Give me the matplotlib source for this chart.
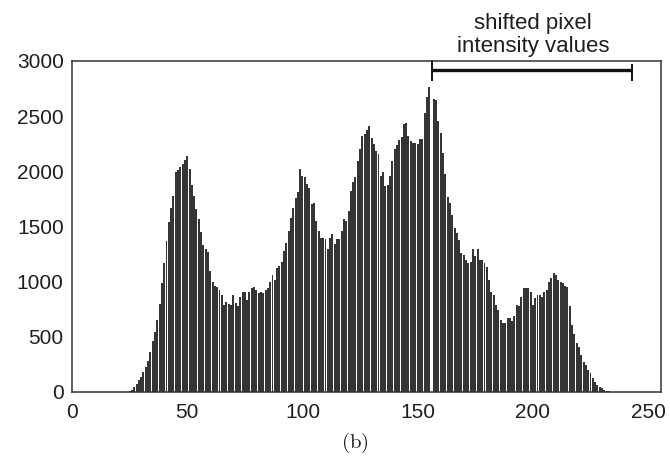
import numpy as np
import matplotlib
matplotlib.use("Agg")
import matplotlib.pyplot as plt

plt.rcParams["font.family"] = ["Liberation Sans", "DejaVu Sans"]
plt.rcParams["mathtext.fontset"] = "cm"

# Pixel-intensity histogram: counts for intensity levels 25..235 (all others are zero)
start_level = 25
counts_nonzero = [
    5, 15, 45, 75, 110, 140, 185, 230, 280, 360,            # 25-34
    460, 540, 650, 800, 990, 1170, 1370, 1540, 1670, 1780,  # 35-44
    1990, 2010, 2040, 2070, 2100, 2140, 2020, 1880, 1780, 1660,  # 45-54
    1570, 1450, 1330, 1300, 1270, 1100, 1000, 960, 950, 925,  # 55-64
    880, 790, 820, 800, 790, 880, 805, 775, 865, 910,        # 65-74
    905, 835, 910, 940, 955, 925, 895, 910, 895, 925,        # 75-84
    945, 1000, 1060, 1015, 1120, 1140, 1180, 1280, 1350, 1460,  # 85-94
    1580, 1670, 1760, 1810, 2020, 1960, 1945, 1885, 1850, 1700,  # 95-104
    1715, 1550, 1460, 1400, 1400, 1385, 1295, 1400, 1430, 1340,  # 105-114
    1385, 1385, 1460, 1565, 1550, 1640, 1820, 1900, 1945, 2095,  # 115-124
    2200, 2320, 2340, 2370, 2410, 2305, 2245, 2185, 2155, 1960,  # 125-134
    1990, 1870, 1880, 1960, 2095, 2200, 2240, 2280, 2310, 2430,  # 135-144
    2440, 2320, 2275, 2260, 2260, 2245, 2290, 2290, 2530, 2670,  # 145-154
    2760, 0, 2655, 2650, 2460, 2350, 2170, 1975, 1765, 1710,     # 155-164
    1605, 1485, 1440, 1380, 1260, 1240, 1200, 1170, 1180, 1300,  # 165-174
    1230, 1300, 1200, 1195, 1165, 1135, 1015, 910, 880, 790,     # 175-184
    745, 655, 625, 625, 670, 670, 640, 685, 790, 775,            # 185-194
    865, 940, 940, 940, 910, 790, 850, 880, 880, 865,            # 195-204
    910, 925, 1000, 1030, 1075, 1060, 1015, 1000, 985, 965,      # 205-214
    950, 775, 605, 530, 440, 410, 335, 275, 245, 200,            # 215-224
    170, 125, 93, 63, 48, 33, 18, 10, 5, 2,                      # 225-234
]

levels = np.arange(256)
counts = np.zeros(256)
counts[start_level:start_level + len(counts_nonzero)] = counts_nonzero

x_ticks = [0, 50, 100, 150, 200, 250]
y_ticks = [0, 500, 1000, 1500, 2000, 2500, 3000]

# Range of intensity levels that were shifted
shift_range = (156, 243)
shift_label = "shifted pixel\nintensity values"
panel_label = r"$(\mathrm{b})$"

fig = plt.figure(figsize=(6.7, 4.68), dpi=100)
ax = fig.add_axes([0.1075, 0.1624, 0.8791, 0.7073])

ax.bar(levels, counts, width=0.84, color="#353535", linewidth=0, align="center")

ax.set_xlim(0, 255.6)
ax.set_ylim(0, 3000)
ax.set_xticks(x_ticks)
ax.set_yticks(y_ticks)
ax.tick_params(axis="both", length=0, labelsize=15, colors="#1e1e1e")
ax.tick_params(axis="y", pad=6)
ax.tick_params(axis="x", pad=8)
for sp in ax.spines.values():
    sp.set_linewidth(1.1)
    sp.set_color("#333333")

# Bracket marking the shifted intensity range
x0, x1 = shift_range
ax.plot([x0, x1], [2920, 2920], color="#111111", lw=2.4, solid_capstyle="butt", clip_on=False)
ax.plot([x0, x0], [2830, 3000], color="#111111", lw=1.4, clip_on=False)
ax.plot([x1, x1], [2830, 2960], color="#111111", lw=1.4, clip_on=False)
ax.text((x0 + x1) / 2 + 0.5, 3040, shift_label, ha="center", va="bottom",
        fontsize=16, linespacing=1.1, color="#1e1e1e")

fig.text(355 / 670, 1 - 443 / 468, panel_label, ha="center", va="center",
         fontsize=15, color="#1e1e1e")

fig.savefig("out.png", dpi=100, facecolor="white")
